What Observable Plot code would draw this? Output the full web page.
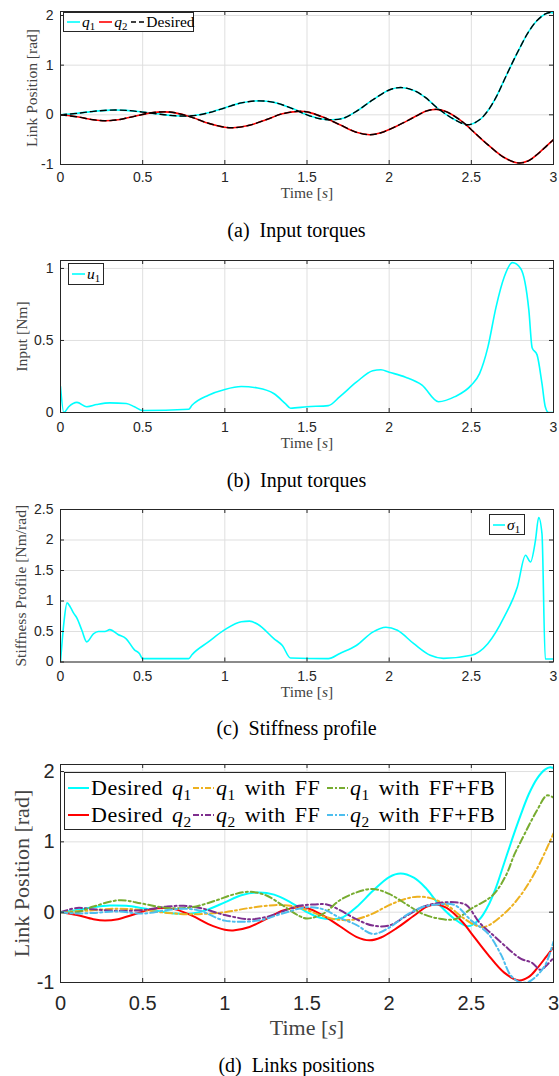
<!DOCTYPE html>
<html><head><meta charset="utf-8">
<script src="https://cdn.jsdelivr.net/npm/d3@7"></script>
<script src="https://cdn.jsdelivr.net/npm/@observablehq/plot@0.6"></script>
<style>
body{margin:0;background:#fff;}
#root{position:relative;width:559px;height:1076px;overflow:hidden;font-family:"Liberation Serif","Times New Roman",serif;}
.panel{position:absolute;left:0;}
.cap{position:absolute;width:559px;text-align:center;color:#000;white-space:nowrap;}
.legend{position:absolute;border:1px solid #262626;background:#fff;box-sizing:border-box;display:flex;align-items:center;color:#000;white-space:nowrap;}
.legend .it{display:flex;align-items:center;}
.legend .tx{display:inline-block;line-height:1;}
.legend sub{font-size:70%;vertical-align:-0.3em;line-height:0;}
</style></head><body><div id="root"></div>
<script>
// ---------- data ----------
const xTicks = [0, 0.5, 1, 1.5, 2, 2.5, 3];
const yTicksA = [-1, 0, 1, 2];
const yTicksB = [0, 0.5, 1];
const yTicksC = [0, 0.5, 1, 1.5, 2, 2.5];
const yTicksD = [-1, 0, 1, 2];

// desired link positions (panels a and d)
const q1T = [0,0.1,0.2,0.3,0.4,0.5,0.6,0.7,0.8,0.9,1.0,1.1,1.2,1.3,1.4,1.5,1.58,1.65,1.72,1.8,1.9,2.0,2.07,2.15,2.22,2.3,2.4,2.48,2.55,2.6,2.65,2.7,2.75,2.8,2.85,2.9,2.95,2.98,3.0];
const q1V = [0,0.03,0.07,0.095,0.09,0.055,0.015,-0.02,-0.02,0.04,0.14,0.24,0.28,0.25,0.14,0.0,-0.08,-0.1,-0.07,0.07,0.3,0.5,0.55,0.49,0.35,0.12,-0.1,-0.2,-0.1,0.08,0.35,0.7,1.05,1.38,1.68,1.9,2.03,2.06,2.05];
const q2T = [0,0.1,0.2,0.27,0.35,0.45,0.55,0.63,0.7,0.8,0.9,1.0,1.05,1.15,1.25,1.35,1.45,1.5,1.6,1.7,1.8,1.88,1.95,2.05,2.15,2.23,2.29,2.35,2.45,2.5,2.6,2.7,2.79,2.85,2.9,2.96,3.0];
const q2V = [0,-0.04,-0.1,-0.12,-0.1,-0.03,0.04,0.06,0.04,-0.05,-0.17,-0.25,-0.26,-0.21,-0.1,0.02,0.07,0.06,-0.05,-0.2,-0.35,-0.4,-0.36,-0.22,-0.05,0.08,0.11,0.06,-0.15,-0.3,-0.6,-0.86,-0.97,-0.92,-0.8,-0.62,-0.5];

// input torque u1 (panel b)
const u1T = [0,0.02,0.05,0.1,0.16,0.22,0.3,0.4,0.45,0.5,0.78,0.8,0.9,1.0,1.1,1.2,1.3,1.37,1.4,1.5,1.63,1.7,1.8,1.9,1.95,2.0,2.1,2.2,2.3,2.4,2.5,2.55,2.6,2.65,2.7,2.75,2.8,2.85,2.87,2.9,2.93,2.95,2.97,3.0];
const u1V = [0.18,0,0.04,0.07,0.04,0.055,0.067,0.062,0.04,0.014,0.023,0.05,0.12,0.16,0.18,0.17,0.13,0.06,0.03,0.04,0.048,0.11,0.21,0.29,0.297,0.28,0.245,0.19,0.075,0.11,0.19,0.27,0.45,0.73,0.94,1.04,1.0,0.71,0.45,0.4,0.2,0.04,0,0];

// stiffness sigma1 (panel c)
const s1T = [0,0.02,0.04,0.06,0.08,0.1,0.13,0.16,0.2,0.23,0.27,0.3,0.35,0.4,0.45,0.48,0.5,0.78,0.8,0.9,1.0,1.1,1.15,1.2,1.3,1.35,1.4,1.63,1.7,1.8,1.9,1.98,2.05,2.15,2.25,2.33,2.5,2.6,2.7,2.78,2.83,2.86,2.89,2.91,2.93,2.95,3.0];
const s1V = [0,0.63,0.97,0.9,0.8,0.72,0.52,0.33,0.46,0.5,0.5,0.53,0.45,0.38,0.2,0.14,0.055,0.055,0.12,0.33,0.53,0.66,0.67,0.62,0.38,0.27,0.065,0.055,0.14,0.27,0.49,0.57,0.52,0.3,0.11,0.06,0.11,0.3,0.74,1.23,1.75,1.64,1.99,2.37,2.1,0.05,0.05];

// panel d tracking results
const ff1T = [0,0.15,0.35,0.5,0.65,0.8,1.0,1.15,1.3,1.4,1.5,1.6,1.7,1.8,1.9,2.0,2.1,2.17,2.25,2.35,2.45,2.52,2.58,2.7,2.8,2.9,3.0];
const ff1V = [0,0.02,0.05,0.03,-0.01,-0.03,0,0.06,0.1,0.09,0.03,-0.06,-0.11,-0.1,-0.02,0.1,0.19,0.22,0.2,0.1,-0.08,-0.18,-0.21,-0.02,0.24,0.62,1.12];
const fb1T = [0,0.1,0.2,0.36,0.5,0.65,0.8,0.95,1.05,1.15,1.25,1.35,1.45,1.5,1.6,1.7,1.8,1.9,2.0,2.1,2.2,2.3,2.4,2.5,2.63,2.71,2.76,2.8,2.9,2.96,3.0];
const fb1V = [0,0.0,0.08,0.17,0.12,0.06,0.07,0.17,0.25,0.29,0.24,0.1,-0.05,-0.09,-0.02,0.17,0.28,0.33,0.26,0.12,-0.02,-0.09,-0.1,0.05,0.24,0.52,0.81,1.0,1.45,1.66,1.63];
const ff2T = [0,0.1,0.2,0.35,0.5,0.65,0.75,0.85,1.0,1.15,1.25,1.35,1.45,1.55,1.62,1.7,1.8,1.9,2.0,2.1,2.2,2.3,2.4,2.47,2.55,2.62,2.7,2.8,2.87,2.92,2.96,3.0];
const ff2V = [0,0.06,0.04,0.02,0.03,0.08,0.09,0.06,-0.04,-0.1,-0.07,0.01,0.09,0.11,0.11,0.03,-0.1,-0.19,-0.19,-0.06,0.07,0.13,0.14,0.1,-0.15,-0.3,-0.47,-0.66,-0.72,-0.82,-0.75,-0.65];
const fb2T = [0,0.1,0.2,0.35,0.5,0.65,0.75,0.85,1.0,1.2,1.35,1.5,1.6,1.7,1.8,1.9,2.0,2.1,2.2,2.3,2.4,2.5,2.6,2.68,2.74,2.8,2.85,2.9,2.95,3.0];
const fb2V = [0,-0.02,-0.01,0.01,-0.02,0.03,0.05,0.02,-0.12,-0.12,-0.02,0.07,0.04,-0.08,-0.18,-0.31,-0.22,-0.05,0.07,0.11,0.1,-0.12,-0.3,-0.6,-0.9,-1.0,-0.99,-0.9,-0.75,-0.42];

// ---------- helpers ----------
const pts = (T, V) => T.map((t, i) => ({t, v: V[i]}));
const SANS = '"Liberation Sans", Arial, Helvetica, sans-serif';
const SERIF = '"Liberation Serif", "Times New Roman", serif';
const AX = "#262626";
const GRID = "#dfdfdf";
const LBL = "#444";
const root = document.getElementById("root");

function makePanel(o) {
  const plotH = o.height - o.marginTop - o.marginBottom;
  const svg = Plot.plot({
    width: 559, height: o.height,
    marginLeft: 60, marginRight: 6, marginTop: o.marginTop, marginBottom: o.marginBottom,
    style: {fontFamily: SANS, fontSize: o.fs + "px", color: AX, background: "transparent", overflow: "visible"},
    x: {domain: [0, 3]},
    y: {domain: o.yDomain},
    marks: [
      Plot.gridX(xTicks, {stroke: GRID, strokeOpacity: 1, strokeWidth: 1}),
      Plot.gridY(o.yTicks, {stroke: GRID, strokeOpacity: 1, strokeWidth: 1}),
      ...o.marks,
      Plot.tickX(xTicks, {x: d => d, insetTop: plotH - 4, stroke: AX, strokeWidth: 1}),
      Plot.tickX(xTicks, {x: d => d, insetBottom: plotH - 4, stroke: AX, strokeWidth: 1}),
      Plot.tickY(o.yTicks, {y: d => d, insetRight: 489, stroke: AX, strokeWidth: 1}),
      Plot.tickY(o.yTicks, {y: d => d, insetLeft: 489, stroke: AX, strokeWidth: 1}),
      Plot.frame({stroke: AX, strokeWidth: 1}),
      Plot.axisX(xTicks, {tickSize: 0, tickPadding: o.xPad, tickFormat: d => String(d), label: null, fontSize: o.fs, fill: AX}),
      Plot.axisY(o.yTicks, {tickSize: 0, tickPadding: o.yPad, tickFormat: d => String(d), label: null, fontSize: o.fs, fill: AX}),
      Plot.text(["Time [s]"], {frameAnchor: "bottom", dy: o.xLabelDy, lineAnchor: "middle", textAnchor: "middle", fontFamily: SERIF, fontSize: o.lfs, fill: LBL, text: d => d}),
      Plot.text([o.yLabel], {frameAnchor: "left", dx: o.yLabelDx, rotate: -90, lineAnchor: "middle", textAnchor: "middle", fontFamily: SERIF, fontSize: o.lfs, fill: LBL, text: d => d})
    ]
  });
  // italic s in the time label
  d3.select(svg).selectAll("text").each(function () {
    if (this.textContent === "Time [s]") {
      const t = d3.select(this);
      t.text("Time [");
      t.append("tspan").attr("font-style", "italic").text("s");
      t.append("tspan").text("]");
    }
  });
  svg.classList.add("panel");
  svg.style.top = o.top + "px";
  root.appendChild(svg);
}

function lineMarks(series) {
  return series.map(s => Plot.line(pts(s.T, s.V), {x: "t", y: "v", stroke: s.color, strokeWidth: s.w, strokeDasharray: s.dash, curve: s.curve || "catmull-rom", clip: true}));
}

const DASH = "6,4";
const DASHDOT = "7,3,2,3";

// (a)
makePanel({
  top: 0, height: 200, marginTop: 11, marginBottom: 36, yDomain: [-1, 2.08], yTicks: yTicksA,
  fs: 14, xPad: 8, yPad: 7, lfs: 15.5, xLabelDy: 29, yLabel: "Link Position [rad]", yLabelDx: -28,
  marks: lineMarks([
    {T: q1T, V: q1V, color: "#00ffff", w: 1.6},
    {T: q2T, V: q2V, color: "#ff0000", w: 1.6},
    {T: q1T, V: q1V, color: "#000", w: 1.4, dash: DASH},
    {T: q2T, V: q2V, color: "#000", w: 1.4, dash: DASH}
  ])
});
// (b)
makePanel({
  top: 250, height: 200, marginTop: 10, marginBottom: 38, yDomain: [0, 1.055], yTicks: yTicksB,
  fs: 14, xPad: 10, yPad: 7, lfs: 15.5, xLabelDy: 31, yLabel: "Input [Nm]", yLabelDx: -38,
  marks: lineMarks([{T: u1T, V: u1V, color: "#00ffff", w: 1.6, curve: "monotone-x"}])
});
// (c)
makePanel({
  top: 495, height: 200, marginTop: 14, marginBottom: 33.5, yDomain: [0, 2.5], yTicks: yTicksC,
  fs: 14, xPad: 9, yPad: 7, lfs: 15.5, xLabelDy: 30, yLabel: "Stiffness Profile [Nm/rad]", yLabelDx: -39,
  marks: lineMarks([{T: s1T, V: s1V, color: "#00ffff", w: 1.6, curve: "monotone-x"}])
});
// (d)
makePanel({
  top: 750, height: 280, marginTop: 14, marginBottom: 48, yDomain: [-1, 2.1], yTicks: yTicksD,
  fs: 20, xPad: 13, yPad: 6, lfs: 22, xLabelDy: 45, yLabel: "Link Position [rad]", yLabelDx: -39,
  marks: lineMarks([
    {T: q1T, V: q1V, color: "#00ffff", w: 2},
    {T: q2T, V: q2V, color: "#ff0000", w: 2},
    {T: ff1T, V: ff1V, color: "#edb120", w: 2, dash: DASHDOT},
    {T: ff2T, V: ff2V, color: "#7e2f8e", w: 2, dash: DASHDOT},
    {T: fb1T, V: fb1V, color: "#77ac30", w: 2, dash: DASHDOT},
    {T: fb2T, V: fb2V, color: "#4dbeee", w: 2, dash: DASHDOT}
  ])
});

// ---------- legends ----------
function sample(color, w, dash, len) {
  return `<svg width="${len}" height="10" style="display:block;margin-right:2px;flex:none"><line x1="0" y1="5" x2="${len}" y2="5" stroke="${color}" stroke-width="${w}" ${dash ? `stroke-dasharray="${dash}"` : ""}/></svg>`;
}
function legend(style, html) {
  const d = document.createElement("div");
  d.className = "legend";
  Object.assign(d.style, style);
  d.innerHTML = html;
  root.appendChild(d);
}
const q = n => `<i>q</i><sub>${n}</sub>`;
const item = (smp, txt) => `<span class="it">${smp}<span class="tx">${txt}</span></span>`;
legend({left: "63px", top: "12px", width: "131px", height: "20px", fontSize: "15.5px", padding: "0 3px", gap: "4px"},
  item(sample("#00ffff", 1.6, null, 13), q(1)) +
  item(sample("#ff0000", 1.6, null, 13), q(2)) +
  item(sample("#000", 1.6, "5,3", 13), "Desired"));
legend({left: "68px", top: "263px", width: "36px", height: "22px", fontSize: "15.5px", padding: "0 3px"},
  item(sample("#00ffff", 1.6, null, 13), `<i>u</i><sub>1</sub>`));
legend({left: "489px", top: "514px", width: "36px", height: "21px", fontSize: "15.5px", padding: "0 3px"},
  item(sample("#00ffff", 1.6, null, 12), `<i>σ</i><sub>1</sub>`));
legend({left: "64px", top: "772px", width: "442px", height: "58px", fontSize: "22px", padding: "0 3px", display: "grid",
  gridTemplateColumns: "125px 134px 175px", gridTemplateRows: "27px 27px", alignContent: "center", wordSpacing: "3px", letterSpacing: "0.5px"},
  item(sample("#00ffff", 2, null, 21), `Desired ${q(1)}`) +
  item(sample("#edb120", 2, "6,2,2,2", 21), `${q(1)} with FF`) +
  item(sample("#77ac30", 2, "6,2,2,2", 21), `${q(1)} with FF+FB`) +
  item(sample("#ff0000", 2, null, 21), `Desired ${q(2)}`) +
  item(sample("#7e2f8e", 2, "6,2,2,2", 21), `${q(2)} with FF`) +
  item(sample("#4dbeee", 2, "6,2,2,2", 21), `${q(2)} with FF+FB`));

// ---------- captions ----------
function caption(top, label, text) {
  const d = document.createElement("div");
  d.className = "cap";
  d.style.top = top + "px";
  d.style.left = "17px";
  d.style.fontSize = "20px";
  d.style.lineHeight = "20px";
  d.innerHTML = `${label}&nbsp; ${text}`;
  root.appendChild(d);
}
caption(220, "(a)", "Input torques");
caption(470, "(b)", "Input torques");
caption(718, "(c)", "Stiffness profile");
caption(1055, "(d)", "Links positions");
</script></body></html>
